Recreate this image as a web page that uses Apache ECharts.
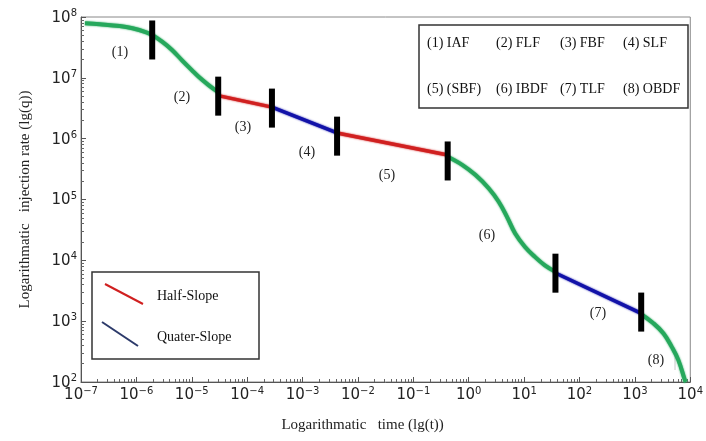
<!DOCTYPE html>
<html>
<head>
<meta charset="utf-8">
<script src="https://cdn.jsdelivr.net/npm/echarts@6/dist/echarts.min.js"></script>
<style>
  html, body { margin: 0; padding: 0; background: #fff; }
  #chart { width: 706px; height: 441px; }
</style>
</head>
<body>
<div id="chart"></div>
<script>
// decades shown on each axis (tick labels are 10^k)
const xDecades = [-7, -6, -5, -4, -3, -2, -1, 0, 1, 2, 3, 4]
const yDecades = [2, 3, 4, 5, 6, 7, 8]

// curve pieces, [t, q]
const flowEarly = [[1.18e-7, 7.87e7], [2.18e-7, 7.59e7], [4.97e-7, 7.11e7], [8.5e-7, 6.52e7], [1.51e-6, 5.6e7],
  [1.93e-6, 5.06e7], [2.91e-6, 3.93e7], [4.4e-6, 2.87e7], [6.6e-6, 1.96e7], [1e-5, 1.34e7],
  [1.33e-5, 1.04e7], [2.01e-5, 7.6e6], [3.0e-5, 5.8e6]]
const halfSlopeA = [[3.0e-5, 5.1e6], [2.8e-4, 3.3e6]]
const quarterSlopeA = [[2.8e-4, 3.3e6], [4.2e-3, 1.24e6]]
const halfSlopeB = [[4.2e-3, 1.24e6], [0.417, 5.4e5]]
const flowMid = [[0.417, 5.04e5], [0.773, 3.68e5], [1.33, 2.52e5], [2.31, 1.52e5], [3.48, 9.2e4],
  [4.91, 5.19e4], [6.9, 2.76e4], [10.4, 1.66e4], [15.7, 1.14e4], [23.7, 8.3e3], [36.8, 6.5e3]]
const quarterSlopeB = [[36.8, 6.2e3], [1.30e3, 1.34e3]]
const flowLate = [[1.30e3, 1.30e3], [2.18e3, 916], [3.29e3, 628], [4.63e3, 378], [6.1e3, 229],
  [8.0e3, 107], [8.3e3, 100]]

// boundaries between flow regimes
const boundaries = [[1.93e-6, 4.19e7], [3.0e-5, 5.0e6], [2.8e-4, 3.18e6], [4.2e-3, 1.10e6],
  [0.417, 4.3e5], [36.8, 6.15e3], [1.30e3, 1.41e3]]

const stageLabels = ['(1)', '(2)', '(3)', '(4)', '(5)', '(6)', '(7)', '(8)']
const stageNames = [['(1) IAF', '(2) FLF', '(3) FBF', '(4) SLF'], ['(5) (SBF)', '(6) IBDF', '(7) TLF', '(8) OBDF']]
const slopeNames = ['Half-Slope', 'Quater-Slope']

const GREEN = '#26a85c'
const RED = '#d02020'
const BLUE = '#1212a8'
const serif = '"Liberation Serif", "Times New Roman", serif'

const pow10 = k => Math.pow(10, k)
const majorX = xDecades.map(pow10)
const majorY = yDecades.map(pow10)
const minors = ds => {
  const out = []
  ds.slice(0, -1).forEach(k => { for (let m = 2; m <= 9; m++) out.push(m * pow10(k)) })
  return out
}

const supLabel = v => {
  const e = Math.round(Math.log10(v))
  return '{b|10}{s|' + (e < 0 ? '\u2212' + (-e) : e) + '}'
}
const rich = {
  b: { fontSize: 15, fontFamily: '"DejaVu Sans"', color: '#222', lineHeight: 17, padding: [3, 0, 0, 0], verticalAlign: 'bottom' },
  s: { fontSize: 10, fontFamily: '"DejaVu Sans"', color: '#222', lineHeight: 12, verticalAlign: 'top' },
}

const lineSeries = (data, color, width, smooth) => ({
  type: 'line',
  data,
  smooth,
  symbol: 'none',
  lineStyle: { color, width, shadowColor: color, shadowBlur: 2, opacity: 1 },
  z: 3,
})

const axisCommon = {
  type: 'log',
  logBase: 10,
  splitLine: { show: false },
}

const chart = echarts.init(document.getElementById('chart'), null, { renderer: 'canvas' })

const stagePos = [[120, 52], [182, 97], [243, 127], [307, 152], [387, 175], [487, 235], [598, 313], [656, 360]]
const namesX = [427, 496, 560, 623]
const namesY = [43, 89]

const graphics = []
stageLabels.forEach((t, i) => {
  graphics.push({ type: 'text', x: stagePos[i][0], y: stagePos[i][1], style: { text: t, font: '14px ' + serif, fill: '#222', align: 'center', verticalAlign: 'middle' }, z: 10 })
})
graphics.push({ type: 'line', shape: { x1: 675, y1: 351, x2: 675, y2: 370 }, style: { stroke: '#c8c8c8', lineWidth: 1 } })
graphics.push({ type: 'rect', shape: { x: 419, y: 25, width: 269, height: 83 }, style: { fill: '#fff', stroke: '#333', lineWidth: 1.5 }, z: 5 })
stageNames.forEach((row, r) => row.forEach((t, c) => {
  graphics.push({ type: 'text', x: namesX[c], y: namesY[r], style: { text: t, font: '14px ' + serif, fill: '#111', verticalAlign: 'middle' }, z: 6 })
}))
graphics.push({ type: 'rect', shape: { x: 92, y: 272, width: 167, height: 87 }, style: { fill: '#fff', stroke: '#333', lineWidth: 1.5 }, z: 5 })
graphics.push({ type: 'line', shape: { x1: 105, y1: 284, x2: 143, y2: 304 }, style: { stroke: RED, lineWidth: 2 }, z: 6 })
graphics.push({ type: 'line', shape: { x1: 102, y1: 322, x2: 138, y2: 346 }, style: { stroke: '#2c3a6a', lineWidth: 2 }, z: 6 })
graphics.push({ type: 'text', x: 157, y: 296, style: { text: slopeNames[0], font: '14px ' + serif, fill: '#111', verticalAlign: 'middle' }, z: 6 })
graphics.push({ type: 'text', x: 157, y: 337, style: { text: slopeNames[1], font: '14px ' + serif, fill: '#111', verticalAlign: 'middle' }, z: 6 })

chart.setOption({
  animation: false,
  backgroundColor: '#fff',
  grid: { left: 81, right: 9, top: 17, bottom: 59, show: true, borderColor: '#888', borderWidth: 1 },
  xAxis: [
    {
      ...axisCommon,
      min: majorX[0],
      max: majorX[majorX.length - 1],
      name: 'Logarithmatic   time (lg(t))',
      nameLocation: 'middle',
      nameGap: 36,
      nameTextStyle: { fontFamily: serif, fontSize: 15, color: '#222', padding: [0, 46, 0, 0] },
      axisLine: { lineStyle: { color: '#555', width: 1 } },
      axisTick: { inside: true, length: 5, lineStyle: { color: '#555' }, customValues: majorX },
      axisLabel: { margin: 4, formatter: supLabel, rich, customValues: majorX },
    },
    {
      ...axisCommon,
      min: majorX[0],
      max: majorX[majorX.length - 1],
      position: 'bottom',
      axisLine: { show: false },
      axisLabel: { show: false },
      axisTick: { inside: true, length: 3, lineStyle: { color: '#666' }, customValues: minors(xDecades) },
    },
  ],
  yAxis: [
    {
      ...axisCommon,
      min: majorY[0],
      max: majorY[majorY.length - 1],
      name: 'Logarithmatic   injection rate (lg(q))',
      nameLocation: 'middle',
      nameGap: 48,
      nameTextStyle: { fontFamily: serif, fontSize: 15, color: '#222' },
      axisLine: { show: true, lineStyle: { color: '#555', width: 1 } },
      axisTick: { inside: true, length: 5, lineStyle: { color: '#555' }, customValues: majorY },
      axisLabel: { margin: 4, formatter: supLabel, rich, customValues: majorY },
    },
    {
      ...axisCommon,
      min: majorY[0],
      max: majorY[majorY.length - 1],
      position: 'left',
      axisLine: { show: false },
      axisLabel: { show: false },
      axisTick: { inside: true, length: 3, lineStyle: { color: '#666' }, customValues: minors(yDecades) },
    },
  ],
  series: [
    lineSeries(flowEarly, GREEN, 4, 0.4),
    lineSeries(halfSlopeA, RED, 3.5, false),
    lineSeries(quarterSlopeA, BLUE, 3.5, false),
    lineSeries(halfSlopeB, RED, 3.5, false),
    lineSeries(flowMid, GREEN, 4, 0.4),
    lineSeries(quarterSlopeB, BLUE, 3.5, false),
    lineSeries(flowLate, GREEN, 4, 0.4),
    {
      type: 'scatter',
      data: boundaries,
      symbol: 'rect',
      symbolSize: [6, 39],
      itemStyle: { color: '#000', opacity: 1 },
      z: 5,
    },
  ],
  graphic: graphics,
})
</script>
</body>
</html>
